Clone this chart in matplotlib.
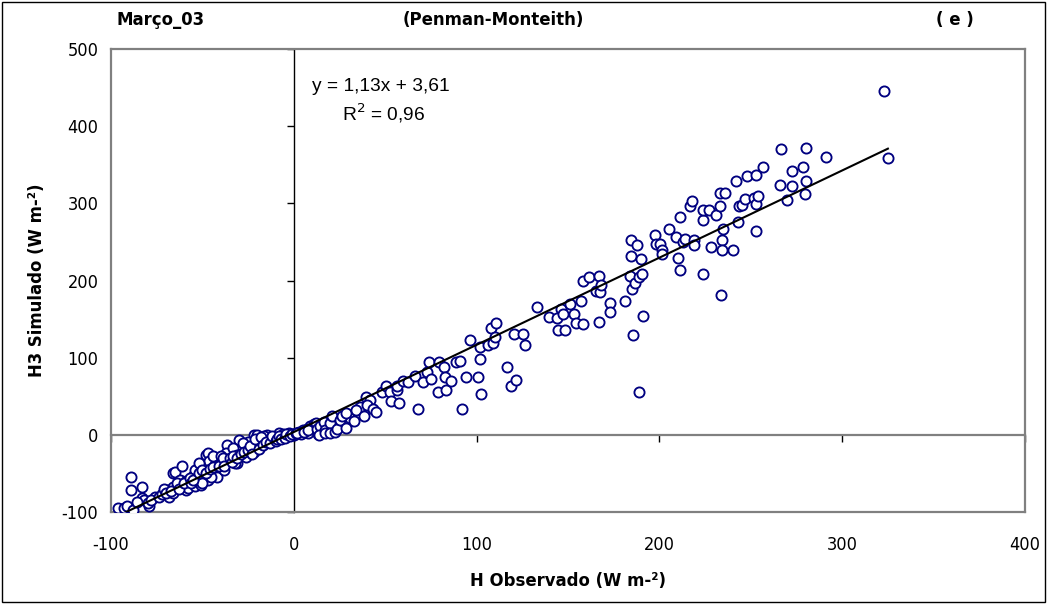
import matplotlib
matplotlib.use("Agg")
import matplotlib.pyplot as plt
from matplotlib import font_manager
from matplotlib.patches import Rectangle

# Observed vs simulated sensible heat flux (W m-2), March 2003, Penman-Monteith
h_obs = [
    -96, -93, -91, -88, -89, -89, -83, -83, -82, -86, -79, -76, -69, -68, -66, -66,
    -66, -65, -61, -62, -62, -59, -59, -58, -55, -54, -51, -53, -50, -48, -49, -53,
    -51, -47, -45, -43, -42, -37, -36.5, -35, -31, -30, -30, -26, -26, -22, -20.5, -22,
    -18, -16.5, -14.6, -11, -8, -5.6, -2.8, 0, 5, 9, 13,
    -54, -47, -46.6, -45.5, -43, -40, -37, -36, -33, -31, -25, -21, -20, -16.5, -16,
    -6, -3.6, -38, -50, -52, -32,
    -80, -78, -74, -72, -71, -70, -67, -64, -63, -60, -57, -56, -55, -52, -50, -48,
    -46, -44, -44, -41, -40, -39, -38, -35, -34, -33, -31, -29, -28, -27, -25, -24,
    -23, -21, -19, -18, -17, -15, -13, -12, -10, -9, -8, -7, -5, -4, -2, -1,
    1, 3, 4, 6, 7, 8, 10, 11, 15, 18, 21, 24, 26, 27, 30, 31, 35, 36,
    1.7, 5.4, 7.5, 11.9, 12.7, 14.5, 13.8, 16.3, 17, 17, 19.9, 19.9, 20.7, 22.8, 23.6,
    25.4, 26.5, 28.7, 28.7, 32.7, 33.8, 38.5, 39.6, 41.8, 40, 43.3, 45, 48.4, 50.5,
    52.7, 53.4, 56.4, 56.7, 57.8, 59.7, 62.6, 66.2, 68, 70.9, 72.8, 74.2, 75.3, 79.7,
    79, 82.2, 82.6, 83, 85.9, 88.8, 91, 92, 94.3,
    96.4, 100.8, 101.9, 101.9, 102.6, 106.3, 107.8, 108.9, 110.3, 110.7, 116.8, 118.7,
    120.5, 121.6, 125.6, 126.7, 133.2, 139.4, 143.8, 144.5, 146.3, 147.5, 148.5, 151,
    153.3, 154.4, 157.3, 158, 158.4, 161.3, 165.3, 167, 167, 167.5, 168, 173, 173, 181,
    183.9, 184.6, 184.6, 185, 185.7, 186.8, 187.9, 189, 189, 189.7, 190.4, 190.8, 197.7,
    198, 200.5, 201.6, 201.6, 205, 209, 210, 211, 211, 213, 214, 217, 218, 219, 219,
    223.8, 223.8, 224, 227, 228, 231, 233, 233, 233.7, 234, 234, 234.8, 236, 240, 242,
    243, 243.6, 245, 247, 248, 252, 252.7, 253, 253, 254, 256.9, 265.8, 266.6, 269.8,
    272.7, 272.7, 278.6, 279.7, 280.4, 280.4, 291.4, 323, 325,
]
h3_sim = [
    -95, -95, -92, -98, -55, -71, -68, -82, -84, -87, -92, -81, -72, -81, -76, -68,
    -50, -48, -41, -58, -67, -60, -71, -69, -53, -66, -58, -47, -52, -26, -39, -54,
    -65, -58, -32, -48, -54, -37, -13, -25, -36, -6.5, -19, -17, -29, 0, -11, -22,
    -14, -6.5, 0, -4, 2, -2, 2, 0, 6.5, 11, 1,
    -45, -24, -34.5, -54, -39, -34.5, -23, -32, -17, -26, -9, -17, 0, -2, -11,
    1, -1, -45, -63, -37, -37,
    -88, -85, -80, -77, -70, -75, -73, -63, -70, -63, -56, -62, -59, -50, -45, -50,
    -44, -42, -28, -40, -27, -30, -40, -30, -35, -28, -30, -25, -10, -22, -20, -14,
    -25, -5, -18, -3, -13, -9, -10, -2, -8, -5, -1, -6, -4, 1, -2, 1,
    2, 4, 1, 5, 7, 3, 9, 14, 10, 12, 16, 21, 11, 18, 26, 22, 28, 36,
    2, 4, 6.5, 15, 7, 12, 0, 17, 6.5, 2, 15, 3, 24, 4, 7,
    19, 24, 28, 9, 18.5, 32, 24, 49, 45, 39, 33, 30, 56, 63.5,
    56, 44, 58, 63, 41, 70, 69, 76, 33, 69, 81, 94, 73, 94,
    56, 88, 75, 58, 70, 94, 96, 33, 75.5,
    123, 75.5, 98, 114, 53, 117, 139, 119, 127, 145.5, 88.5, 63.5,
    131, 71, 131, 116, 166, 153, 151.5, 136, 163, 156, 136, 169,
    156, 145.5, 174, 199, 143, 204, 186.5, 206, 146, 185.6, 194, 171, 159, 174,
    206, 252, 232, 189, 129, 196.5, 246.5, 205, 56, 228, 208.5, 154, 259,
    247, 247, 240, 234.5, 267, 257, 229, 282, 214, 250, 254, 297, 303, 252, 246,
    278.5, 209, 291.5, 291.5, 244, 285, 314, 297, 181, 252, 239, 267, 314, 239, 329,
    276, 296, 297.5, 305, 335, 307, 264, 337, 299, 310, 347, 324, 370, 304,
    342, 322, 347, 312, 329, 372, 360, 445, 359,
]

# Least-squares trendline reported on the chart
slope = 1.13
intercept = 3.61
r_squared = 0.96

x_ticks = [-100, 0, 100, 200, 300, 400]
y_ticks = [-100, 0, 100, 200, 300, 400, 500]

plt.rcParams["axes.unicode_minus"] = False

# Prefer a narrow sans face for the labels when one is installed
fonts = font_manager.fontManager.ttflist
names = {f.name for f in fonts}
narrow_family = None
narrow_stretch = "normal"
for cand in ("Liberation Sans Narrow", "Arial Narrow"):
    if cand in names:
        narrow_family = cand
        break
if narrow_family is None:
    for f in fonts:
        if f.name in ("Liberation Sans", "DejaVu Sans") and str(f.stretch) in (
                "condensed", "semi-condensed", "75", "87.5"):
            narrow_family = f.name
            narrow_stretch = "condensed"
            break
if narrow_family is None:
    narrow_family = "Liberation Sans"
    label_size = 12.0
else:
    label_size = 13.2
regular = "Liberation Sans" if "Liberation Sans" in names else "DejaVu Sans"

W, H = 1047, 604
fig = plt.figure(figsize=(W / 100, H / 100), dpi=100)
fig.patch.set_facecolor("white")

pos = [111 / W, 1 - 512 / H, (1025 - 111) / W, (512 - 49) / H]

# Underlying axes: zero-crossing axis lines with their tick marks
ax0 = fig.add_axes(pos)
ax0.set_xlim(-100, 400)
ax0.set_ylim(-100, 500)
for side in ("top", "right"):
    ax0.spines[side].set_visible(False)
ax0.spines["left"].set_position(("data", 0))
ax0.spines["bottom"].set_position(("data", 0))
ax0.spines["left"].set_color("black")
ax0.spines["bottom"].set_color("#808080")
ax0.spines["left"].set_linewidth(1.0)
ax0.spines["bottom"].set_linewidth(1.6)
ax0.set_xticks(x_ticks)
ax0.set_yticks(y_ticks)
ax0.tick_params(axis="both", direction="out", length=5, width=1.0, color="black",
                labelleft=False, labelbottom=False)
ax0.set_zorder(0)

# Main axes: frame, labels, data and trendline
ax = fig.add_axes(pos, sharex=ax0, sharey=ax0)
ax.patch.set_visible(False)
ax.set_zorder(1)
for side in ax.spines:
    ax.spines[side].set_color("#808080")
    ax.spines[side].set_linewidth(1.6)
ax.tick_params(axis="both", length=0, labelsize=label_size - 0.2, labelcolor="black")
ax.tick_params(axis="x", pad=17)
ax.tick_params(axis="y", pad=9)
for lab in ax.get_xticklabels() + ax.get_yticklabels():
    lab.set_fontfamily(narrow_family)
    lab.set_fontstretch(narrow_stretch)

ax.plot(h_obs, h3_sim, linestyle="none", marker="o", markersize=7.3,
        markerfacecolor="white", markeredgecolor="#000080", markeredgewidth=1.35,
        zorder=3)

x_line = [min(h_obs), max(h_obs)]
y_line = [slope * v + intercept for v in x_line]
ax.plot(x_line, y_line, color="black", linewidth=1.5, zorder=4)

ax.text(0.220, 0.920, f"y = {slope:.2f}x + {intercept:.2f}".replace(".", ","),
        transform=ax.transAxes, fontsize=13.8, family=regular, ha="left", va="center")
ax.text(0.253, 0.862, f"R$^2$ = {r_squared:.2f}".replace(".", ","),
        transform=ax.transAxes, fontsize=13.8, family=regular, ha="left", va="center")

lab_kw = dict(fontsize=label_size, fontweight="bold", family=narrow_family,
              fontstretch=narrow_stretch)
ax.set_xlabel("H Observado (W m-²)", labelpad=13, **lab_kw)
ax.set_ylabel("H3 Simulado (W m-²)", labelpad=11, **lab_kw)

fig.text(117 / W, 1 - 20 / H, "Março_03", ha="left", va="center", **lab_kw)
fig.text(493 / W, 1 - 20 / H, "(Penman-Monteith)", ha="center", va="center", **lab_kw)
fig.text(955 / W, 1 - 20 / H, "( e )", ha="center", va="center", **lab_kw)

fig.patches.append(Rectangle((2 / W, 2 / H), 1 - 4 / W, 1 - 4 / H,
                             transform=fig.transFigure, fill=False,
                             edgecolor="black", linewidth=1.0))

fig.savefig("out.png", dpi=100)
